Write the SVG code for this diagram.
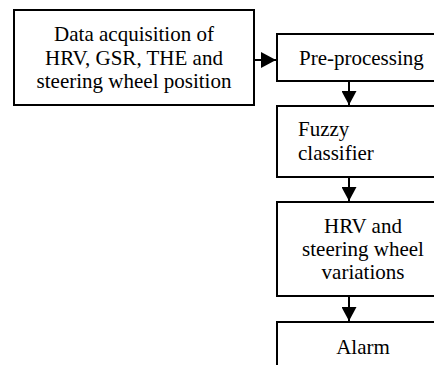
<svg xmlns="http://www.w3.org/2000/svg" width="434" height="365" viewBox="0 0 434 365">
<style>
.box{fill:#fff;stroke:#000;stroke-width:2}
.t{font-family:"Liberation Serif","Times New Roman",serif;font-size:21px;fill:#000}
.c{text-anchor:middle}
.ln{stroke:#000;stroke-width:2;fill:none}
</style>
<defs>
<marker id="ah" viewBox="0 0 14 15" refX="14" refY="7.5" markerWidth="14" markerHeight="15" markerUnits="userSpaceOnUse" orient="auto">
<path d="M0,0 L14,7.5 L0,15 z" fill="#000"/>
</marker>
<marker id="ah2" viewBox="0 0 15 16" refX="15" refY="8" markerWidth="15" markerHeight="16" markerUnits="userSpaceOnUse" orient="auto">
<path d="M0,0 L15,8 L0,16 z" fill="#000"/>
</marker>
</defs>
<rect width="434" height="365" fill="#fff"/>
<g id="connectors">
<line class="ln" x1="254" y1="60" x2="276" y2="60" marker-end="url(#ah2)"/>
<line class="ln" x1="349" y1="82" x2="349" y2="105" marker-end="url(#ah)"/>
<line class="ln" x1="349" y1="178" x2="349" y2="201" marker-end="url(#ah)"/>
<line class="ln" x1="349" y1="297" x2="349" y2="321" marker-end="url(#ah)"/>
</g>
<g id="acquisition">
<rect class="box" x="14" y="10" width="240" height="95"/>
<text class="t c" x="134" y="41">Data acquisition of</text>
<text class="t c" x="134" y="65">HRV, GSR, THE and</text>
<text class="t c" x="134" y="88">steering wheel position</text>
</g>
<g id="preprocessing">
<rect class="box" x="277" y="34" width="172" height="47"/>
<text class="t" x="299" y="65">Pre-processing</text>
</g>
<g id="fuzzy">
<rect class="box" x="277" y="106" width="172" height="71"/>
<text class="t" x="298" y="136">Fuzzy</text>
<text class="t" x="298" y="160">classifier</text>
</g>
<g id="variations">
<rect class="box" x="277" y="202" width="172" height="94"/>
<text class="t c" x="363" y="233">HRV and</text>
<text class="t c" x="363" y="256">steering wheel</text>
<text class="t c" x="363" y="279">variations</text>
</g>
<g id="alarm">
<rect class="box" x="277" y="322" width="172" height="60"/>
<text class="t c" x="363" y="354">Alarm</text>
</g>
</svg>
